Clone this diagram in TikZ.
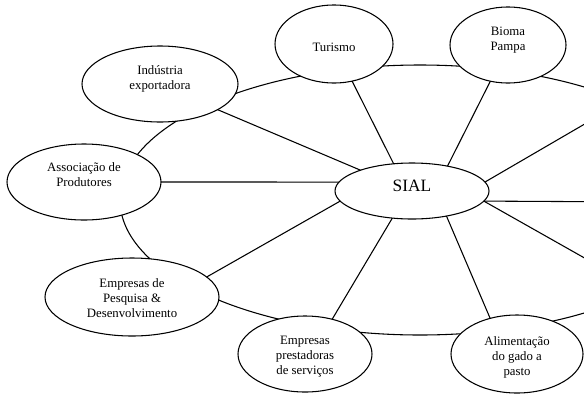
\documentclass[tikz,border=0pt]{standalone}
\usepackage{fontspec}
\setmainfont{Liberation Serif}
\usetikzlibrary{shapes.geometric}
\tikzset{
  ell/.style={draw, ellipse, fill=white, line width=0.8pt, inner sep=0pt, outer sep=0pt},
  lbl/.style={align=center, inner sep=0pt, font=\fontsize{9.6}{11.25}\selectfont},
  link/.style={line width=0.8pt},
}
\begin{document}
\begin{tikzpicture}[x=0.75pt, y=-0.75pt]
\useasboundingbox (0,0) rectangle (584,393);
\clip (0,0) rectangle (584,393);
\fill[white] (0,0) rectangle (584,393);
% ring
\draw[link] (420,200) ellipse [x radius=225pt, y radius=101.25pt];
% nodes
\node[ell, minimum width=115.5pt, minimum height=42pt] (sial) at (412,191) {};
\node[ell, minimum width=88.5pt, minimum height=58.5pt] (tur) at (334,44) {};
\node[ell, minimum width=87pt, minimum height=57pt] (bio) at (508,45) {};
\node[ell, minimum width=117pt, minimum height=57pt] (ind) at (160,84) {};
\node[ell, minimum width=115.5pt, minimum height=57pt] (ass) at (84,182) {};
\node[ell, minimum width=130.5pt, minimum height=58.5pt] (ped) at (132,297) {};
\node[ell, minimum width=100.5pt, minimum height=57pt] (emp) at (305,354) {};
\node[ell, minimum width=99pt, minimum height=58.5pt] (ali) at (517,354) {};
\coordinate (r1) at (650,86);
\coordinate (r2) at (650,202);
\coordinate (r3) at (650,295);
% spokes
\draw[link] (sial.158.9) -- (ind.-24.6);
\draw[link] (sial.173.3) -- (ass.0);
\draw[link] (sial.124.2) -- (tur.-64);
\draw[link] (sial.35.7) -- (bio.244.7);
\draw[link] (sial.7.4) -- (r1);
\draw[link] (sial.-8) -- (r2);
\draw[link] (sial.-8) -- (r3);
\draw[link] (sial.-36.9) -- (ali.127.1);
\draw[link] (sial.234.5) -- (emp.52.7);
\draw[link] (sial.188) -- (ped.15.9);
% labels
\node[lbl] (tur-t) at (334,47) {Turismo};
\node[lbl] (bio-t) at (508,40) {Bioma\\Pampa};
\node[lbl] (ind-t) at (160,79) {Indústria\\exportadora};
\node[lbl] (ass-t) at (84,175) {Associação de\\Produtores};
\node[lbl] (ped-t) at (132,298) {Empresas de\\Pesquisa \&\\Desenvolvimento};
\node[lbl] (emp-t) at (305,357) {Empresas\\prestadoras\\de serviços};
\node[lbl] (ali-t) at (517,357) {Alimentação\\do gado a\\pasto};
\node[lbl, font=\fontsize{13}{15}\selectfont] (sial-t) at (412,186) {SIAL};
\end{tikzpicture}
\end{document}
